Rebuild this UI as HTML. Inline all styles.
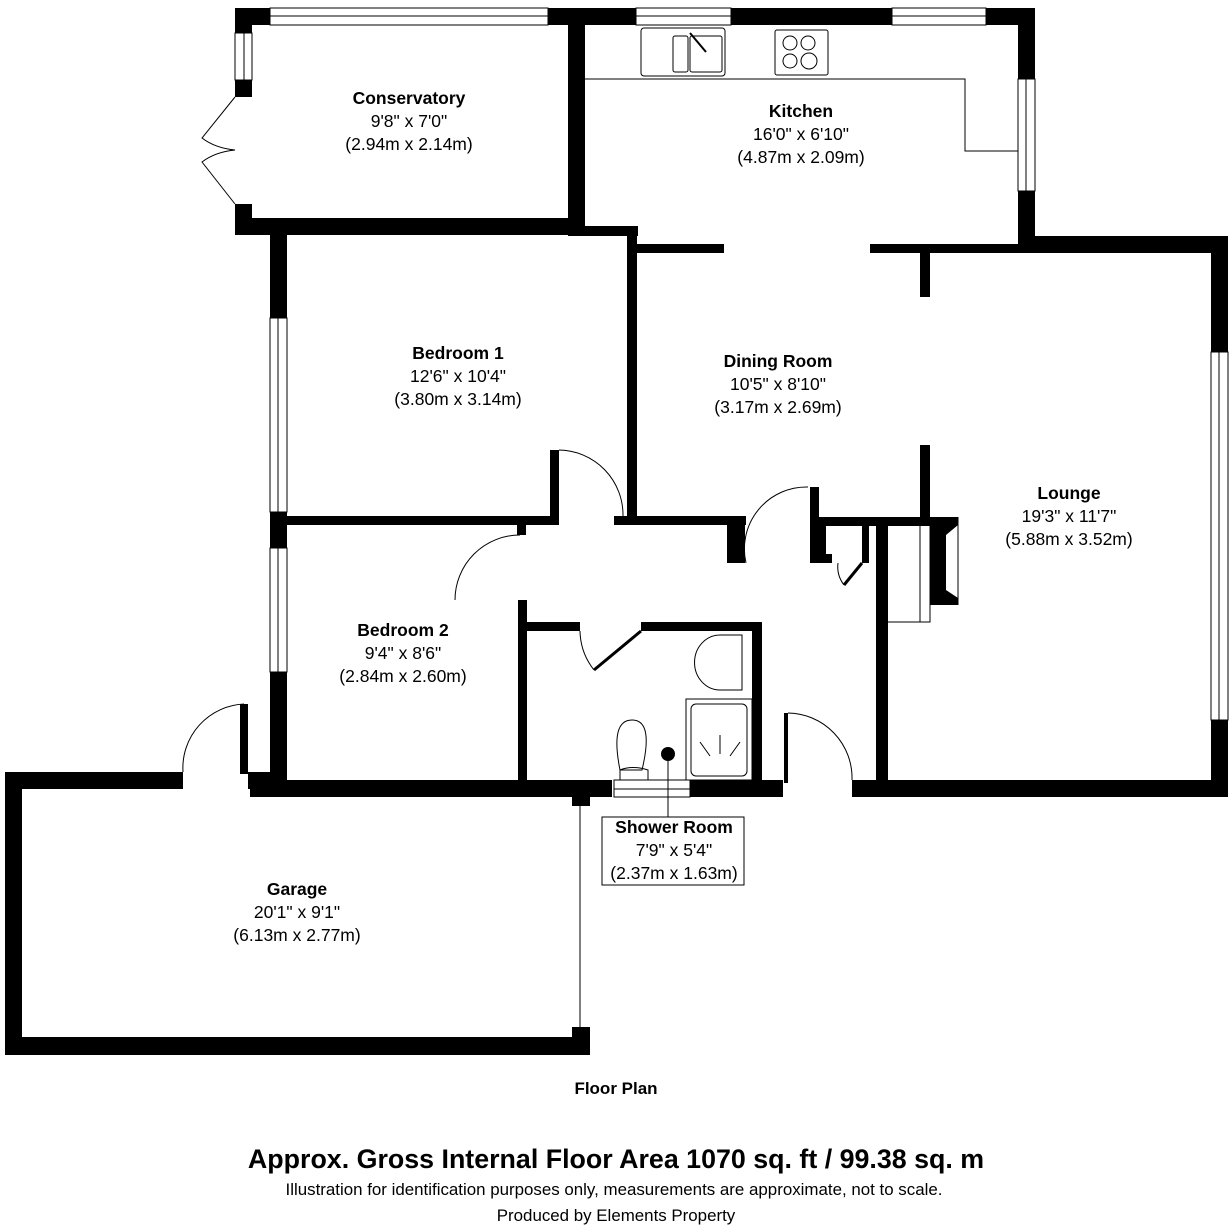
<!DOCTYPE html>
<html><head><meta charset="utf-8"><style>
html,body{margin:0;padding:0;background:#fff;}
svg{display:block;}
text{font-family:"Liberation Sans",Arial,sans-serif;fill:#000;}
</style></head><body>
<svg width="1232" height="1232" viewBox="0 0 1232 1232" xmlns="http://www.w3.org/2000/svg">
<g fill="#000">
<rect x="235" y="8" width="35" height="17"/>
<rect x="548" y="8" width="88" height="17"/>
<rect x="731" y="8" width="161" height="17"/>
<rect x="986" y="8" width="49" height="17"/>
<rect x="235" y="8" width="17" height="25"/>
<rect x="235" y="80" width="17" height="17"/>
<rect x="235" y="204" width="17" height="31"/>
<rect x="235" y="218" width="350" height="17"/>
<rect x="568" y="8" width="17" height="222"/>
<rect x="568" y="226" width="70" height="10"/>
<rect x="1018" y="8" width="17" height="71"/>
<rect x="1018" y="191" width="17" height="62"/>
<rect x="1018" y="236" width="210" height="17"/>
<rect x="1211" y="236" width="17" height="116"/>
<rect x="1211" y="720" width="17" height="77"/>
<rect x="852" y="780" width="376" height="17"/>
<rect x="637" y="244" width="87" height="9"/>
<rect x="870" y="244" width="150" height="9"/>
<rect x="920" y="253" width="10" height="44"/>
<rect x="920" y="445" width="10" height="80"/>
<rect x="270" y="235" width="17" height="83"/>
<rect x="270" y="512" width="17" height="36"/>
<rect x="270" y="672" width="17" height="125"/>
<rect x="627" y="226" width="10" height="294"/>
<rect x="287" y="516" width="268" height="9"/>
<rect x="550" y="450" width="9" height="75"/>
<rect x="614" y="516" width="132" height="9"/>
<rect x="727" y="516" width="18" height="47"/>
<rect x="810" y="487" width="9" height="76"/>
<rect x="810" y="554" width="22" height="9"/>
<rect x="817" y="517" width="128" height="9"/>
<rect x="817" y="517" width="9" height="46"/>
<rect x="862" y="526" width="7" height="37"/>
<rect x="876" y="526" width="12" height="260"/>
<polygon points="930,517 958,517 958,525 946,535 946,590 958,598 958,605 930,605"/>
<rect x="517" y="525" width="9" height="10"/>
<rect x="518" y="600" width="9" height="190"/>
<rect x="527" y="622" width="53" height="9"/>
<rect x="641" y="622" width="121" height="9"/>
<rect x="752" y="622" width="10" height="168"/>
<rect x="250" y="780" width="362" height="17"/>
<rect x="690" y="780" width="93" height="17"/>
<rect x="784" y="713" width="4" height="70"/>
<rect x="5" y="772" width="178" height="17"/>
<rect x="248" y="772" width="22" height="17"/>
<rect x="240" y="704" width="8" height="70"/>
<rect x="5" y="772" width="17" height="283"/>
<rect x="5" y="1037" width="585" height="18"/>
<rect x="572" y="789" width="18" height="17"/>
<rect x="572" y="1027" width="18" height="28"/>
</g>
<g fill="none" stroke="#000" stroke-width="1">
<rect x="270" y="8" width="278" height="17"/><line x1="270" y1="16" x2="548" y2="16"/>
<rect x="636" y="8" width="95" height="17"/><line x1="636" y1="16" x2="731" y2="16"/>
<rect x="892" y="8" width="94" height="17"/><line x1="892" y1="16" x2="986" y2="16"/>
<rect x="235" y="33" width="17" height="47"/><line x1="244" y1="33" x2="244" y2="80"/>
<rect x="1018" y="79" width="17" height="112"/><line x1="1026" y1="79" x2="1026" y2="191"/>
<rect x="1211" y="352" width="17" height="368"/><line x1="1219" y1="352" x2="1219" y2="720"/>
<rect x="270" y="318" width="17" height="194"/><line x1="278" y1="318" x2="278" y2="512"/>
<rect x="270" y="548" width="17" height="124"/><line x1="278" y1="548" x2="278" y2="672"/>
<polyline points="585,79 965,79 965,151 1018,151"/>
<rect x="641" y="28" width="84" height="48" rx="3"/>
<rect x="673" y="36" width="15" height="36" rx="2"/>
<rect x="690" y="36" width="32" height="36" rx="2"/>
<rect x="775" y="30" width="53" height="45" rx="2"/>
<circle cx="790" cy="43" r="7"/><circle cx="808" cy="43" r="7"/>
<circle cx="790" cy="61" r="7"/><circle cx="809" cy="61" r="8"/>
<line x1="690" y1="33" x2="706" y2="52" stroke-width="2"/>
<path d="M235,97 L202,138 Q215,148 235,150 Q215,152 202,162 L235,204"/>
<path d="M559,450 A65,65 0 0 1 623,516"/>
<path d="M455,600 A65,65 0 0 1 520,535"/>
<path d="M746,563 A62,62 0 0 1 808,487"/>
<path d="M788,713 A65,65 0 0 1 852,780"/>
<path d="M183,772 A64,64 0 0 1 244,704"/>
<path d="M580,631 A65,65 0 0 0 594,670"/>
<path d="M838,563 A30,30 0 0 0 844,585"/>
<line x1="580" y1="797" x2="580" y2="1027"/>
<rect x="686" y="699" width="66" height="81"/>
<rect x="691" y="704" width="56" height="72" rx="5"/>
<path d="M742,635 L742,690 L720,690 A25,27 0 0 1 720,635 Z"/>
<rect x="614" y="780" width="76" height="17"/>
<line x1="614" y1="789" x2="690" y2="789"/>
<path d="M620,780 L620,770 Q632,765 648,770 L648,780"/>
<path d="M620,770 Q610,720 632,720 Q654,720 642,770 Z"/>
<line x1="668" y1="755" x2="668" y2="818"/>
<rect x="920" y="525" width="10" height="97"/>
<polyline points="888,622 930,622"/>
<line x1="958" y1="517" x2="958" y2="605"/>
<path d="M700,742 L710,756 M720,735 L720,754 M740,742 L730,756"/>
</g>
<g stroke="#000" stroke-width="3" fill="none">
<line x1="594" y1="670" x2="641" y2="631"/>
<line x1="844" y1="585" x2="862" y2="563"/>
</g>
<circle cx="668" cy="754" r="7" fill="#000"/>
<rect x="602" y="817" width="142" height="68" fill="#fff" stroke="#000" stroke-width="1"/>
<g text-anchor="middle" font-size="17.5">
<text x="409" y="104" font-weight="bold">Conservatory</text>
<text x="409" y="127">9'8" x 7'0"</text>
<text x="409" y="150">(2.94m x 2.14m)</text>
<text x="801" y="117" font-weight="bold">Kitchen</text>
<text x="801" y="140">16'0" x 6'10"</text>
<text x="801" y="163">(4.87m x 2.09m)</text>
<text x="458" y="359" font-weight="bold">Bedroom 1</text>
<text x="458" y="382">12'6" x 10'4"</text>
<text x="458" y="405">(3.80m x 3.14m)</text>
<text x="778" y="367" font-weight="bold">Dining Room</text>
<text x="778" y="390">10'5" x 8'10"</text>
<text x="778" y="413">(3.17m x 2.69m)</text>
<text x="1069" y="499" font-weight="bold">Lounge</text>
<text x="1069" y="522">19'3" x 11'7"</text>
<text x="1069" y="545">(5.88m x 3.52m)</text>
<text x="403" y="636" font-weight="bold">Bedroom 2</text>
<text x="403" y="659">9'4" x 8'6"</text>
<text x="403" y="682">(2.84m x 2.60m)</text>
<text x="674" y="833" font-weight="bold">Shower Room</text>
<text x="674" y="856">7'9" x 5'4"</text>
<text x="674" y="879">(2.37m x 1.63m)</text>
<text x="297" y="895" font-weight="bold">Garage</text>
<text x="297" y="918">20'1" x 9'1"</text>
<text x="297" y="941">(6.13m x 2.77m)</text>
<text x="616" y="1094" font-weight="bold" font-size="17">Floor Plan</text>
<text x="616" y="1168" font-size="26.8" font-weight="bold">Approx. Gross Internal Floor Area 1070 sq. ft / 99.38 sq. m</text>
<text x="614" y="1195" font-size="16.9">Illustration for identification purposes only, measurements are approximate, not to scale.</text>
<text x="616" y="1221" font-size="16.9">Produced by Elements Property</text>
</g>
</svg>
</body></html>
